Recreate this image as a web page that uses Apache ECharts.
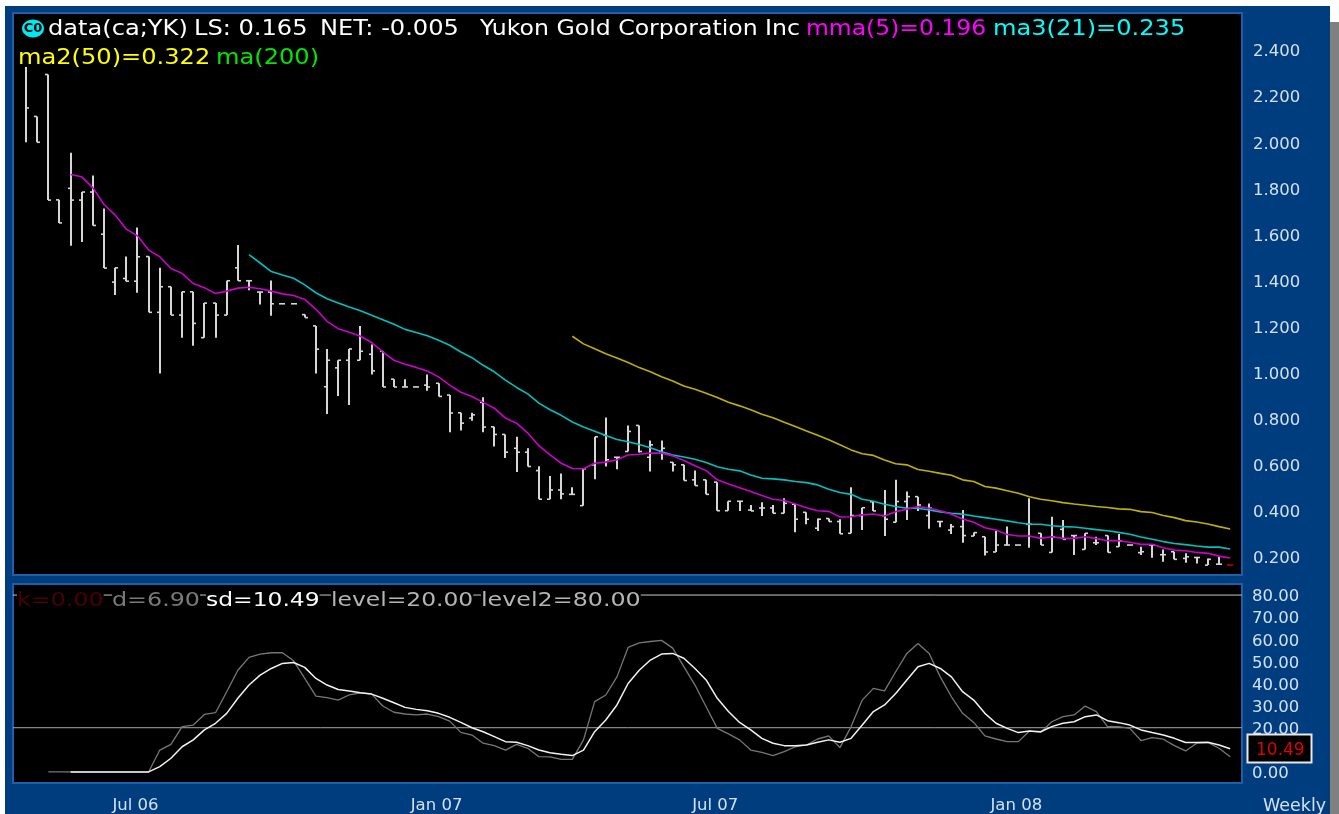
<!DOCTYPE html>
<html>
<head>
<meta charset="utf-8">
<style>html,body{margin:0;padding:0;background:#fff;overflow:hidden}#c{width:1339px;height:814px}</style>
<script src="https://cdn.jsdelivr.net/npm/echarts@6/dist/echarts.min.js"></script>
</head>
<body>
<div id="c"></div>
<script>
const highs=[2.327,2.112,2.294,1.75,1.954,1.784,1.856,1.713,1.455,1.504,
1.63,1.504,1.455,1.373,1.351,1.351,1.302,1.302,1.399,1.554,
1.399,1.35,1.4,1.299,1.299,1.252,1.203,1.103,1.054,1.103,
1.203,1.122,1.093,.972,.972,.938,.992,.954,.903,.826,
.826,.893,.765,.732,.722,.672,.594,.552,.562,.503,
.583,.722,.806,.633,.771,.771,.706,.706,.611,.6,
.575,.535,.525,.442,.442,.426,.438,.426,.455,.429,
.394,.367,.367,.364,.503,.414,.441,.491,.535,.484,
.462,.432,.354,.343,.404,.306,.288,.313,.332,.252,
.455,.303,.375,.361,.293,.303,.288,.293,.3,.252,
.245,.252,.233,.223,.216,.198,.194,.2,.165];
const lows=[2.0,2.0,1.749,1.65,1.551,1.567,1.639,1.454,1.337,1.397,
1.347,1.262,.997,1.25,1.152,1.117,1.152,1.152,1.25,1.399,
1.358,1.296,1.247,1.299,1.299,1.239,.997,.821,.899,.86,
1.054,.992,.938,.938,.938,.938,.922,.897,.741,.749,
.791,.741,.68,.63,.569,.593,.451,.451,.451,.472,
.423,.538,.593,.581,.658,.654,.571,.622,.571,.532,
.51,.472,.401,.401,.4,.4,.378,.39,.39,.307,
.342,.313,.354,.301,.303,.317,.4,.291,.351,.361,
.4,.323,.329,.3,.262,.291,.207,.222,.252,.252,
.24,.252,.22,.277,.209,.233,.252,.22,.245,.252,
.209,.197,.18,.19,.175,.172,.165,.169,.165];
const opens=[null,2.112,2.294,1.75,1.8,1.749,1.784,1.601,1.393,1.409,
1.397,1.504,1.262,1.373,1.25,1.351,1.152,1.302,1.25,1.455,
1.399,1.35,1.35,1.299,1.299,1.252,1.203,.939,1.021,1.054,
1.054,1.08,1.093,.972,.938,.938,.946,.954,.903,.826,
.803,.871,.765,.732,.672,.655,.575,.451,.491,.472,
.423,.6,.73,.633,.658,.771,.633,.658,.611,.6,
.535,.535,.525,.401,.442,.404,.413,.413,.39,.429,
.394,.325,.367,.354,.303,.38,.44,.38,.351,.441,
.462,.38,.354,.317,.332,.291,.288,.222,.252,.252,
.342,.303,.22,.32,.293,.233,.262,.293,.245,.252,
.219,.252,.21,.223,.194,.198,.165,.169,.165];
const closes=[2.149,2.0,1.749,1.65,1.749,1.784,1.639,1.454,1.455,1.397,
1.503,1.262,1.373,1.25,1.351,1.214,1.302,1.25,1.399,1.399,
1.399,1.35,1.299,1.299,1.299,1.239,1.102,1.054,1.054,1.103,
1.093,1.008,.938,.938,.938,.938,.938,.897,.825,.781,
.817,.764,.732,.655,.655,.593,.451,.491,.474,.472,
.583,.722,.622,.633,.745,.658,.687,.672,.6,.532,
.51,.472,.401,.442,.442,.4,.413,.39,.433,.364,
.364,.364,.354,.301,.38,.414,.4,.364,.441,.462,
.426,.412,.354,.332,.293,.306,.222,.252,.252,.252,
.342,.252,.288,.277,.293,.303,.262,.22,.27,.252,
.223,.252,.21,.19,.201,.198,.19,.169,.165];
const mmaStart=4;
const mma=[1.86,1.85,1.802,1.73,1.684,1.623,1.594,1.532,1.503,1.452,1.431,1.387,1.369,1.344,1.354,
1.367,1.371,1.364,1.354,1.342,1.335,1.318,1.275,1.223,1.191,1.175,1.158,1.131,1.09,1.054,1.037,1.023,1.007,.982,.946,.915,
.897,.871,.846,.803,.781,.738,.683,.643,.607,.584,.583,.607,.612,.622,.643,.646,.651,.651,.639,
.619,.596,.575,.535,.517,.501,.484,.467,.451,.445,.43,.414,.401,.398,.374,.375,.383,.387,
.378,.397,.407,.419,.412,.401,.386,.365,.351,.327,.317,.298,.291,.291,.281,
.288,.281,.281,.288,.28,.271,.271,.264,.255,.255,.24,.23,.227,.22,.216,.204,.196];
const ma21Start=20;
const ma21=[1.512,1.476,1.439,1.424,1.41,1.381,1.347,1.321,1.302,1.285,1.269,1.249,1.23,1.21,1.188,1.174,1.16,1.141,1.119,1.09,
1.065,1.032,1.004,.968,.936,.908,.868,.839,.815,.786,.764,.746,.727,.71,.7,.688,.674,.657,.643,.634,.624,.61,.592,.581,.574,
.556,.542,.539,.535,.528,.523,.513,.494,.48,.472,.451,.442,
.429,.419,.412,.412,.404,.396,.39,.386,.378,.371,.364,.357,.349,.342,.342,
.336,.332,.33,.325,.319,.314,.307,.299,.287,.277,.267,.259,.254,.248,.243,.243,.235];
const ma50Start=49;
const ma50=[1.158,1.125,1.104,1.082,1.064,1.044,1.022,1.004,.982,.964,.942,.928,.911,.892,.872,.856,.839,
.82,.804,.785,.766,.747,.728,.709,.687,.665,.648,.641,.621,.605,.6,.58,.572,.563,.555,.535,.528,.506,.499,.488,.477,.462,.451,
.444,.436,.43,.425,.419,.415,.409,.407,.397,.393,.38,.371,.358,.352,.343,.332,.322];
const dStart=2;
const stochD=[0,0,0,0,0,0,0,0,0,0,
9.9,12.5,20.5,21.2,26,26.8,36.3,46,51.8,53.3,53.9,53.9,50.3,42.3,34.3,33.6,32.5,34.9,35.8,35.2,29.8,27,26.2,25.8,26.2,25,23,17.9,16.7,13,11.9,9.9,12.5,10.7,6.9,6.8,5.7,5.7,14.5,31.8,34.8,43,56.3,58.4,59,59.5,
56,47.6,39.3,29.5,19.7,17.2,14.5,9.9,8.9,7.4,9.2,11.4,12.2,14.9,16.3,11,20.5,32.5,37.8,36.7,45.3,53.6,58.1,53.6,43,34,26.5,22.4,16.3,14.9,13.7,13.7,18.5,17.9,22.7,25,25.8,29.8,27.3,20.5,20.5,19.7,14.2,15.5,14.8,11.9,9.5,13,13.3,10.7,6.9];
const sdStart=4;
const stochSD=[0,0,0,0,0,0,0,0,
2.4,6.2,11.4,14.5,19,22,26.5,33.3,39.3,43.8,46.8,49.1,49.5,47.3,42.3,39.3,37.3,36.6,35.8,35.2,33.3,31.3,29.2,28.3,27.7,26.5,24.7,22.4,20,18.2,16,13.7,13.4,11.9,9.9,8.7,8,7.4,9.9,18.2,23.5,30.3,40,46,50.6,53.3,
53.6,51.4,46.8,41.6,33.3,27.3,22.4,19,15.2,13,11.9,11.9,12.2,13.4,14.5,13.4,15.2,21.2,27.3,30.3,35.5,41.6,47.6,49.1,46.8,43,36.3,32.5,26.5,22,19.7,17.8,18.5,18.2,20.5,22,22.7,25,25.8,23.2,22.3,21.2,19,17.8,16.7,15.2,13.3,13.3,13.4,12.2,10.49];
const levels=[20,80];
const monthTicks=[2,6,10,15,19,23,28,32,37,41,45,49,54,58,62,67,71,76,80,84,89,93,97,102,106];
const dateTicks=[10,37,62,89];
const dateLabels=['Jul 06','Jan 07','Jul 07','Jan 08'];
const priceTicks=[0.2,0.4,0.6,0.8,1.0,1.2,1.4,1.6,1.8,2.0,2.2,2.4];
const stochLabels=[0,10,20,30,40,50,60,70,80];
const stochTicks=[0,5,10,15,20,25,30,35,40,45,50,55,60,65,70,75,80];

const FONT='"DejaVu Sans"';
const xMin=-1.166,xMax=109.06;
const BLUE='#003d7e',EDGE='#1f5fa8';
const barRows=highs.map((h,i)=>[i,h,lows[i],opens[i],closes[i]]);
const toLine=(arr,start)=>arr.map((v,i)=>[i+start,v]);

function xAxisBase(grid,pos,extra){
  return Object.assign({type:'value',gridIndex:grid,position:pos,min:xMin,max:xMax,
    splitLine:{show:false},axisLine:{show:false},
    axisTick:{show:true,inside:true,length:3,lineStyle:{color:'#555'},customValues:monthTicks},
    axisLabel:{show:false}},extra||{});
}
function yAxisBase(grid,pos,min,max,ticks,extra){
  return Object.assign({type:'value',gridIndex:grid,position:pos,min:min,max:max,
    splitLine:{show:false},axisLine:{show:false},
    axisTick:{show:true,inside:true,length:4,lineStyle:{color:'#555'},customValues:ticks},
    axisLabel:{show:false}},extra||{});
}
function barItem(params,api){
  const i=api.value(0),h=api.value(1),l=api.value(2),o=api.value(3),c=api.value(4);
  const top=api.coord([i,h]),bot=api.coord([i,l]);
  const x=Math.round(top[0]);
  const last=params.dataIndex===highs.length-1;
  const stroke=last?'#c00000':'#d6d6d6';
  const kids=[];
  if(Math.abs(bot[1]-top[1])>0.5){
    kids.push({type:'line',shape:{x1:x,y1:top[1],x2:x,y2:bot[1]},style:{stroke:stroke,lineWidth:2}});
  }
  if(!isNaN(o)){const y=api.coord([i,o])[1];kids.push({type:'line',shape:{x1:x-3,y1:y,x2:x,y2:y},style:{stroke:stroke,lineWidth:1.6}});}
  if(!isNaN(c)){const y=api.coord([i,c])[1];kids.push({type:'line',shape:{x1:x,y1:y,x2:x+3,y2:y},style:{stroke:stroke,lineWidth:1.6}});}
  return {type:'group',children:kids};
}
function txt(text,x,y,fill,size,sx,extra){
  return {type:'text',x:x,y:y,z:20,scaleX:sx||1,silent:true,style:Object.assign({text:text,fill:fill,font:size+'px '+FONT,verticalAlign:'middle',align:'left'},extra||{})};
}
const lineS=(name,xi,yi,data,color,w,z)=>({name:name,type:'line',xAxisIndex:xi,yAxisIndex:yi,data:data,showSymbol:false,symbol:'none',silent:true,animation:false,z:z||5,lineStyle:{color:color,width:w}});
const LBL='#d4e0f2';
const onBlack={backgroundColor:'#000'};

const chart=echarts.init(document.getElementById('c'),null,{renderer:'canvas',width:1339,height:814});
chart.setOption({
  animation:false,
  backgroundColor:'#ffffff',
  textStyle:{fontFamily:FONT},
  grid:[
    {left:13,top:13,width:1229,height:562,show:true,backgroundColor:'#000',borderColor:EDGE,borderWidth:2,z:1},
    {left:13,top:584,width:1229,height:200,show:true,backgroundColor:'#000',borderColor:EDGE,borderWidth:2,z:1}
  ],
  xAxis:[
    xAxisBase(0,'bottom'),
    xAxisBase(0,'top'),
    xAxisBase(1,'top'),
    xAxisBase(1,'bottom',{axisLabel:{show:true,customValues:dateTicks,margin:14,color:LBL,fontSize:16.5,fontFamily:FONT,padding:[0,4,0,0],
      formatter:v=>dateLabels[dateTicks.indexOf(Math.round(v))]||''}})
  ],
  yAxis:[
    yAxisBase(0,'right',0.122,2.561,priceTicks,{axisLabel:{show:true,customValues:priceTicks,margin:11,color:LBL,fontSize:16.5,fontFamily:FONT,verticalAlign:'top',lineHeight:4,formatter:v=>v.toFixed(3)}}),
    yAxisBase(0,'left',0.122,2.561,priceTicks),
    yAxisBase(1,'right',-5,85,stochTicks,{axisLabel:{show:true,customValues:stochLabels,margin:10,color:LBL,fontSize:16.5,fontFamily:FONT,verticalAlign:'top',lineHeight:4,formatter:v=>v.toFixed(2)}}),
    yAxisBase(1,'left',-5,85,stochTicks)
  ],
  series:[
    {type:'custom',name:'price',xAxisIndex:0,yAxisIndex:0,data:barRows,renderItem:barItem,clip:true,silent:true,z:4,
     encode:{x:0,y:[1,2,3,4]}},
    lineS('ma2(50)',0,0,toLine(ma50,ma50Start),'#c0b000',1.6),
    lineS('ma3(21)',0,0,toLine(ma21,ma21Start),'#00c0c0',1.6),
    lineS('mma(5)',0,0,toLine(mma,mmaStart),'#cc00cc',1.6,6),
    lineS('level',2,2,[[xMin,levels[0]],[xMax,levels[0]]],'#aaaaaa',1,3),
    lineS('level2',2,2,[[xMin,levels[1]],[xMax,levels[1]]],'#c8c8c8',1,3),
    lineS('d',2,2,toLine(stochD,dStart),'#777777',1.3,4),
    lineS('sd',2,2,toLine(stochSD,sdStart),'#f2f2f2',1.5,5)
  ],
  graphic:{elements:[
    {type:'rect',z:-10,silent:true,shape:{x:5,y:6,width:1325,height:808},style:{fill:BLUE}},
    {type:'rect',z:-10,silent:true,shape:{x:1330,y:22,width:9,height:792},style:{fill:'#808080'}},
    {type:'ellipse',z:20,silent:true,shape:{cx:33,cy:28.5,rx:11,ry:9},style:{fill:'#00e8f0'}},
    {type:'text',z:21,silent:true,x:33,y:29,style:{text:'C0',fill:'#000',font:'bold 13px '+FONT,align:'center',verticalAlign:'middle'}},
    txt('data(ca;YK)',48,30,'#ffffff',21,1.148),
    txt('LS: 0.165',194,30,'#ffffff',21,1.148),
    txt('NET: -0.005',320,30,'#ffffff',21,1.148),
    txt('Yukon Gold Corporation Inc',480,30,'#ffffff',21,1.124),
    txt('mma(5)=0.196',806,30,'#ff00ff',21,1.117),
    txt('ma3(21)=0.235',993,30,'#00ffff',21,1.148),
    txt('ma2(50)=0.322',18,58.5,'#ffff00',21,1.148),
    txt('ma(200)',216,58.5,'#00e600',21,1.148),
    txt('k=0.00',17,601,'#4a0000',19.5,1.22,onBlack),
    txt('d=6.90',112,601,'#7a7a7a',19.5,1.22,onBlack),
    txt('sd=10.49',206,601,'#ffffff',19.5,1.2,onBlack),
    txt('level=20.00',331,601,'#b4b4b4',19.5,1.2,onBlack),
    txt('level2=80.00',481,601,'#b4b4b4',19.5,1.22,onBlack),
    {type:'rect',z:20,silent:true,shape:{x:1247.5,y:734.5,width:64,height:28},style:{fill:'#000',stroke:'#e8e8e8',lineWidth:2}},
    txt('10.49',1256,750.5,'#e00000',17),
    txt('Weekly',1263,806,LBL,17.5)
  ]}
});
</script>
</body>
</html>
